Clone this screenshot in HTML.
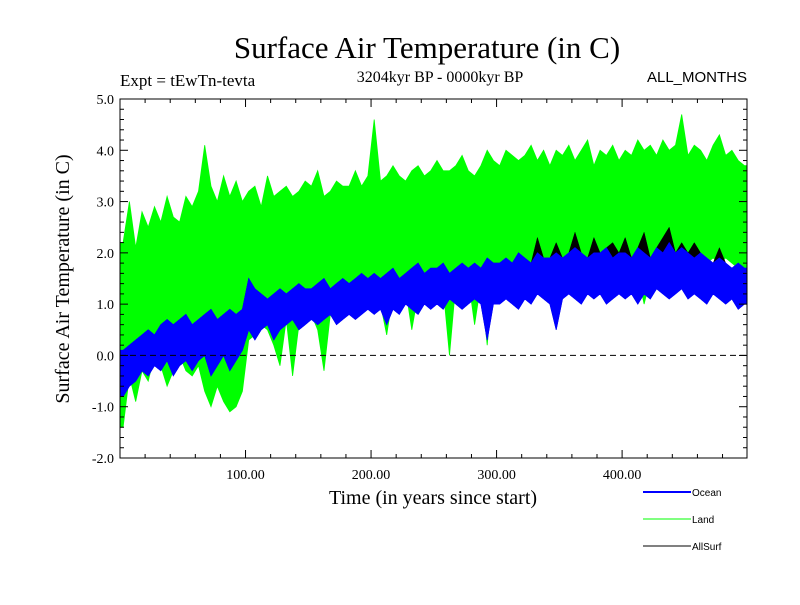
<!DOCTYPE html>
<html><head><meta charset="utf-8"><style>
body{margin:0;background:#fff;}
svg text{font-family:"Liberation Serif",serif;fill:#000;}
.sans{font-family:"Liberation Sans",sans-serif !important;}
</style></head><body>
<svg id="chart" width="800" height="600" xmlns="http://www.w3.org/2000/svg">
<rect width="800" height="600" fill="#fff"/>
<text x="427" y="58" font-size="31" text-anchor="middle">Surface Air Temperature (in C)</text>
<text x="120" y="86" font-size="17">Expt = tEwTn-tevta</text>
<text x="440" y="82" font-size="16" text-anchor="middle">3204kyr BP - 0000kyr BP</text>
<text class="sans" x="747" y="82" font-size="15" text-anchor="end">ALL_MONTHS</text>
<text transform="translate(69,279) rotate(-90)" font-size="20" text-anchor="middle">Surface Air Temperature (in C)</text>
<text x="433" y="504" font-size="20" text-anchor="middle">Time (in years since start)</text>
<g id="plot"></g>
<g id="axes"></g>
<g>
<line x1="643" y1="492" x2="691" y2="492" stroke="#0000ff" stroke-width="2"/>
<text class="sans" x="692" y="496" font-size="10">Ocean</text>
<line x1="643" y1="519" x2="691" y2="519" stroke="#00ff00" stroke-width="1"/>
<text class="sans" x="692" y="523" font-size="10">Land</text>
<line x1="643" y1="546" x2="691" y2="546" stroke="#000" stroke-width="1"/>
<text class="sans" x="692" y="550" font-size="10">AllSurf</text>
</g>
</svg>
<script>
const binYears = 5;
const landMax = [2.2,3.0,2.1,2.8,2.5,2.9,2.6,3.1,2.7,2.6,
3.1,2.9,3.2,4.1,3.3,3.0,3.5,3.1,3.4,3.0,
3.2,3.3,2.9,3.5,3.1,3.2,3.3,3.1,3.2,3.4,
3.3,3.6,3.1,3.2,3.4,3.3,3.3,3.6,3.3,3.5,
4.6,3.4,3.5,3.7,3.5,3.4,3.6,3.7,3.5,3.6,
3.8,3.6,3.6,3.7,3.9,3.6,3.5,3.7,4.0,3.8,
3.7,4.0,3.9,3.8,3.9,4.1,3.8,4.0,3.7,4.0,
3.9,4.1,3.8,4.0,4.2,3.7,4.0,3.9,4.1,3.8,
4.0,3.9,4.2,4.0,4.1,3.9,4.2,4.0,4.1,4.7,
3.9,4.1,4.0,3.8,4.1,4.3,3.9,4.0,3.8,3.7];
const landMin = [-1.4,-0.4,-0.9,-0.3,-0.5,0.0,-0.2,-0.6,-0.3,0.0,
-0.3,-0.4,-0.2,-0.7,-1.0,-0.6,-0.9,-1.1,-1.0,-0.7,
0.3,0.4,0.6,0.5,0.2,-0.2,0.7,-0.4,0.6,0.7,
0.8,0.5,-0.3,0.8,0.9,1.0,0.9,0.8,1.0,1.1,
1.2,1.0,0.4,1.2,1.1,1.3,0.5,1.2,1.4,1.3,
1.4,1.3,0.0,1.4,1.3,1.5,0.6,1.4,0.2,1.5,
1.5,1.4,1.6,1.5,1.3,1.6,1.5,1.6,1.4,0.7,
1.6,1.5,1.7,1.6,1.5,1.7,1.6,1.7,1.6,1.7,
1.7,1.5,1.6,1.0,1.5,1.7,1.6,1.8,1.7,1.9,
1.8,1.9,1.7,1.8,1.9,1.8,1.9,1.8,1.7,1.6];
const oceanMax = [0.1,0.2,0.3,0.4,0.5,0.4,0.6,0.7,0.6,0.7,0.8,0.6,0.7,0.8,0.9,0.7,0.8,0.9,0.8,0.9,
1.5,1.3,1.2,1.1,1.2,1.3,1.2,1.3,1.4,1.3,1.3,1.4,1.5,1.3,1.4,1.5,1.4,1.5,1.6,1.5,
1.6,1.5,1.6,1.7,1.5,1.6,1.7,1.8,1.6,1.7,1.7,1.8,1.6,1.7,1.8,1.7,1.8,1.7,1.9,1.8,
1.8,1.9,1.8,2.0,1.9,1.8,2.0,1.9,1.9,2.0,1.9,2.0,2.1,2.0,1.9,2.0,2.0,2.1,1.9,2.0,
2.0,1.9,2.1,2.0,1.9,2.1,2.0,2.2,2.0,2.1,2.0,1.9,2.0,1.9,1.8,1.9,1.8,1.7,1.8,1.7];
const oceanMin = [-0.8,-0.6,-0.5,-0.3,-0.4,-0.2,-0.3,-0.1,-0.4,-0.2,-0.1,-0.3,-0.1,0.0,-0.4,-0.2,0.0,-0.3,-0.1,0.1,
0.5,0.3,0.5,0.6,0.3,0.5,0.6,0.7,0.5,0.6,0.7,0.6,0.7,0.8,0.6,0.7,0.8,0.7,0.8,0.9,
0.8,0.9,0.6,0.9,0.8,1.0,0.9,0.8,1.0,0.9,1.0,0.9,1.1,1.0,0.9,1.0,1.1,1.0,0.3,1.0,
1.0,1.1,1.0,0.9,1.1,1.0,1.2,1.1,1.0,0.5,1.1,1.2,1.1,1.0,1.2,1.1,1.2,1.0,1.1,1.2,
1.1,1.2,1.0,1.2,1.1,1.3,1.2,1.1,1.2,1.3,1.1,1.2,1.1,1.0,1.2,1.1,1.0,1.1,0.9,1.0];
const allSurfMax = [0.1,0.2,0.3,0.4,0.5,0.4,0.6,0.7,0.6,0.7,0.8,0.6,0.7,0.8,0.9,0.7,0.8,0.9,0.8,0.9,
1.5,1.3,1.2,1.1,1.2,1.3,1.2,1.3,1.4,1.3,1.3,1.4,1.5,1.3,1.4,1.5,1.4,1.5,1.6,1.5,
1.6,1.5,1.6,1.7,1.5,1.6,1.7,1.8,1.6,1.7,1.7,1.8,1.6,1.7,1.8,1.7,1.8,1.7,1.9,1.8,
1.8,1.9,1.8,2.0,1.9,1.8,2.3,1.9,1.9,2.2,1.9,2.0,2.4,2.0,1.9,2.3,2.0,2.1,2.2,2.0,
2.3,1.9,2.1,2.4,1.9,2.1,2.3,2.5,2.0,2.2,2.0,2.2,2.0,1.9,1.8,2.1,1.8,1.7,1.8,1.7];
const yTicks = [-2,-1,0,1,2,3,4,5];
const yTickLabels = ["-2.0","-1.0","0.0","1.0","2.0","3.0","4.0","5.0"];
const xTicks = [100,200,300,400];
const xTickLabels = ["100.00","200.00","300.00","400.00"];

const L=120,R=747,T=99,B=458,XMAX=499.5,YMIN=-2,YMAX=5;
const xs=v=>L+v/XMAX*(R-L);
const ys=v=>B-(v-YMIN)/(YMAX-YMIN)*(B-T);
const NS="http://www.w3.org/2000/svg";
const plot=document.getElementById('plot'),axes=document.getElementById('axes');
function mk(tag,attrs,parent){const e=document.createElementNS(NS,tag);for(const k in attrs)e.setAttribute(k,attrs[k]);parent.appendChild(e);return e;}
function band(hi,lo,color,name,sw){
  const bx=i=>xs(Math.min(i*binYears+binYears/2,XMAX));
  let pts=hi.map((v,i)=>bx(i).toFixed(1)+','+ys(v).toFixed(1));
  pts.unshift(xs(0).toFixed(1)+','+ys(hi[0]).toFixed(1));
  pts.push(R+','+ys(hi[hi.length-1]).toFixed(1));
  pts.push(R+','+ys(lo[lo.length-1]).toFixed(1));
  for(let i=lo.length-1;i>=0;i--)pts.push(bx(i).toFixed(1)+','+ys(lo[i]).toFixed(1));
  pts.push(xs(0).toFixed(1)+','+ys(lo[0]).toFixed(1));
  const p=mk('polygon',{points:pts.join(' '),fill:color,stroke:color,'stroke-width':sw,'stroke-linejoin':'miter'},plot);
  
  
}
band(landMax,landMin,'#00ff00','land-series',0.8);
band(allSurfMax,oceanMin,'#000000','allsurf-series',0.5);
band(oceanMax,oceanMin,'#0000ff','ocean-series',0.8);
const zl=mk('line',{x1:L,x2:R,y1:ys(0),y2:ys(0),stroke:'#000','stroke-dasharray':'6,4','stroke-width':1},axes);


const fr=mk('rect',{x:L,y:T,width:R-L,height:B-T,fill:'none',stroke:'#000','stroke-width':1},axes);


for(let v=YMIN;v<=YMAX+1e-9;v+=0.2){
  const y=ys(v),major=Math.abs(v-Math.round(v))<1e-6,len=major?8:4;
  mk('line',{x1:L,x2:L+len,y1:y,y2:y,stroke:'#000'},axes);
  mk('line',{x1:R,x2:R-len,y1:y,y2:y,stroke:'#000'},axes);
}
yTicks.forEach((v,i)=>{
  const t=mk('text',{x:L-6,y:ys(v)+5,'font-size':14,'text-anchor':'end'},axes);
  t.textContent=yTickLabels[i];
  
  
});
for(let v=20;v<XMAX;v+=20){
  const x=xs(v),major=v%100===0,len=major?8:4;
  mk('line',{x1:x,x2:x,y1:B,y2:B-len,stroke:'#000'},axes);
  mk('line',{x1:x,x2:x,y1:T,y2:T+len,stroke:'#000'},axes);
}
xTicks.forEach((v,i)=>{
  const t=mk('text',{x:xs(v),y:B+21,'font-size':14,'text-anchor':'middle'},axes);
  t.textContent=xTickLabels[i];
  
  
});
</script>
</body></html>
